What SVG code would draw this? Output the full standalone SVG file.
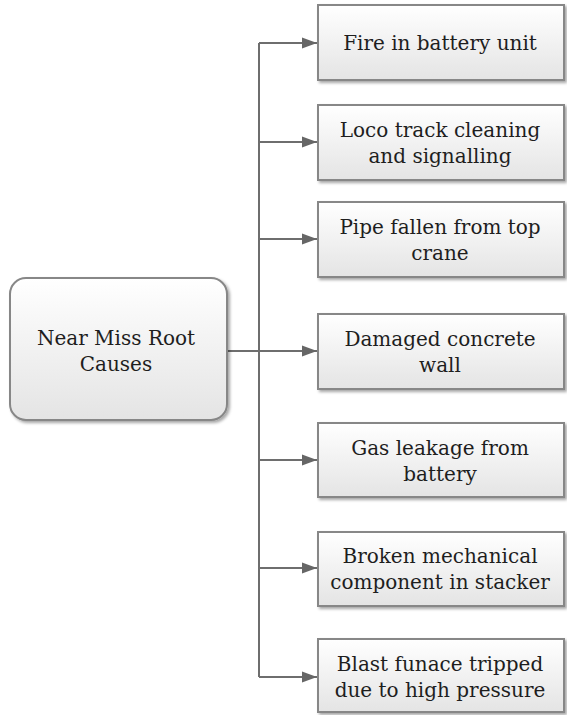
<svg xmlns="http://www.w3.org/2000/svg" width="567" height="715" viewBox="0 0 567 715">
  <style>
    .box { fill: url(#boxFill); stroke: #878787; stroke-width: 2; filter: url(#shadow); }
    .lbl { font-family: "DejaVu Serif", "Liberation Serif", serif; font-size: 20px; fill: #1e1e1e; text-anchor: middle; }
    .wire { fill: none; stroke: #6e6e6e; stroke-width: 2; }
    .arrow { fill: none; stroke: #6e6e6e; stroke-width: 2; marker-end: url(#head); }
  </style>
  <defs>
    <linearGradient id="boxFill" x1="0" y1="0" x2="0" y2="1">
      <stop offset="0" stop-color="#ffffff"/>
      <stop offset="1" stop-color="#e4e4e4"/>
    </linearGradient>
    <filter id="shadow" x="-10%" y="-10%" width="130%" height="130%">
      <feDropShadow dx="2" dy="2" stdDeviation="1.5" flood-color="#000" flood-opacity="0.35"/>
    </filter>
    <marker id="head" markerWidth="16" markerHeight="14" refX="15" refY="7" orient="auto" markerUnits="userSpaceOnUse">
      <path d="M0,1.5 L15,7 L0,12.5 Z" fill="#666"/>
    </marker>
  </defs>

  <!-- connectors -->
  <g id="connectors">
    <line class="wire" x1="259" y1="43" x2="259" y2="677"/>
    <line class="arrow" x1="227" y1="351" x2="317" y2="351"/>
    <line class="arrow" x1="259" y1="43" x2="317" y2="43"/>
    <line class="arrow" x1="259" y1="142" x2="317" y2="142"/>
    <line class="arrow" x1="259" y1="239" x2="317" y2="239"/>
    <line class="arrow" x1="259" y1="460" x2="317" y2="460"/>
    <line class="arrow" x1="259" y1="568" x2="317" y2="568"/>
    <line class="arrow" x1="259" y1="677" x2="317" y2="677"/>
  </g>

  <!-- root node -->
  <g id="root">
    <rect class="box" x="10" y="278" width="217" height="142" rx="16" ry="16"/>
    <text class="lbl" x="116" y="345">Near Miss Root</text>
    <text class="lbl" x="116" y="371">Causes</text>
  </g>

  <!-- cause nodes -->
  <g id="cause1">
    <rect class="box" x="318" y="5" width="246" height="75"/>
    <text class="lbl" x="440" y="50">Fire in battery unit</text>
  </g>
  <g id="cause2">
    <rect class="box" x="318" y="105" width="246" height="75"/>
    <text class="lbl" x="440" y="137">Loco track cleaning</text>
    <text class="lbl" x="440" y="163">and signalling</text>
  </g>
  <g id="cause3">
    <rect class="box" x="318" y="202" width="246" height="75"/>
    <text class="lbl" x="440" y="234">Pipe fallen from top</text>
    <text class="lbl" x="440" y="260">crane</text>
  </g>
  <g id="cause4">
    <rect class="box" x="318" y="314" width="246" height="75"/>
    <text class="lbl" x="440" y="346">Damaged concrete</text>
    <text class="lbl" x="440" y="372">wall</text>
  </g>
  <g id="cause5">
    <rect class="box" x="318" y="423" width="246" height="74"/>
    <text class="lbl" x="440" y="455">Gas leakage from</text>
    <text class="lbl" x="440" y="481">battery</text>
  </g>
  <g id="cause6">
    <rect class="box" x="318" y="532" width="246" height="74"/>
    <text class="lbl" x="440" y="563">Broken mechanical</text>
    <text class="lbl" x="440" y="589">component in stacker</text>
  </g>
  <g id="cause7">
    <rect class="box" x="318" y="639" width="246" height="73"/>
    <text class="lbl" x="440" y="671">Blast funace tripped</text>
    <text class="lbl" x="440" y="697">due to high pressure</text>
  </g>
</svg>
